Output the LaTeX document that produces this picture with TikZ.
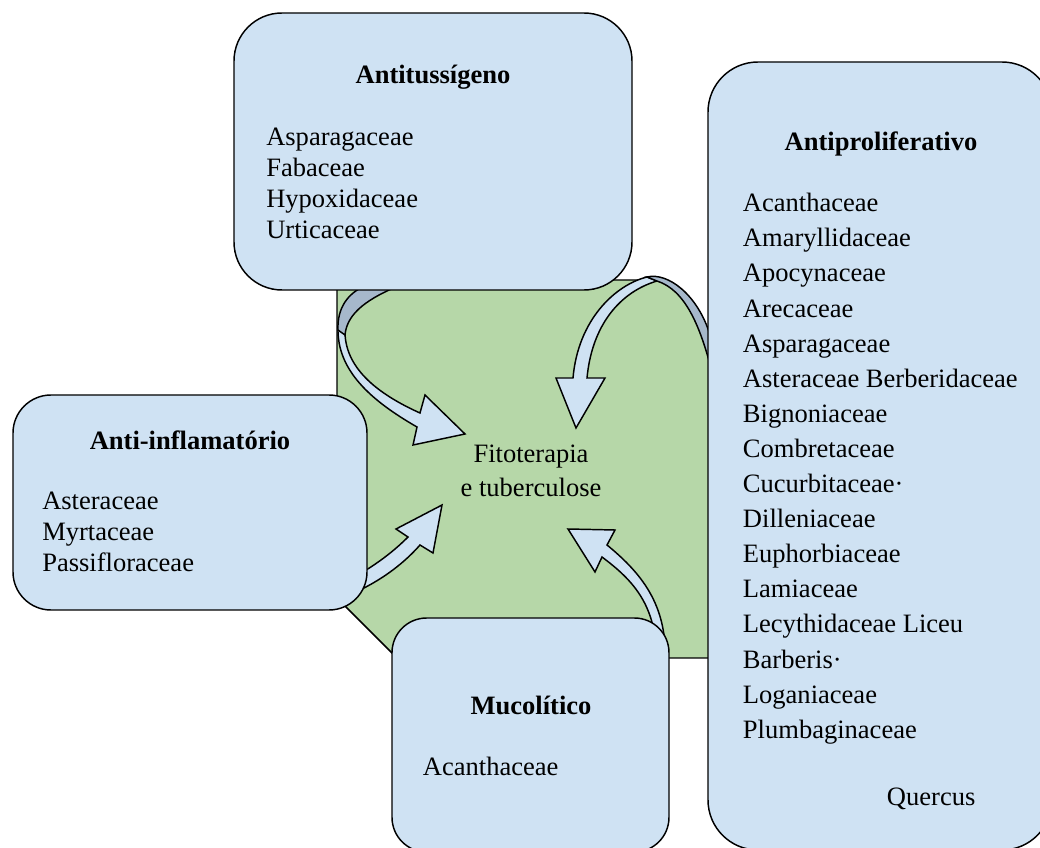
\documentclass[tikz,border=0pt]{standalone}
\usepackage{fontspec}
\setmainfont{Liberation Serif}
\definecolor{boxblue}{HTML}{CFE2F3}
\definecolor{leafgreen}{HTML}{B6D7A8}
\definecolor{foldgray}{HTML}{A6B8CB}
\begin{document}
\begin{tikzpicture}[x=0.75pt,y=-0.75pt,
  rbox/.style={draw=black, fill=boxblue, line width=1.1pt},
  ribbon/.style={draw=black, fill=boxblue, line width=1.1pt, line join=miter},
  fold/.style={draw=black, fill=foldgray, line width=1.1pt},
  lbl/.style={font=\fontsize{19.9}{24}\selectfont, inner sep=0pt, anchor=base west},
  ttl/.style={font=\fontsize{19.9}{24}\selectfont\bfseries, inner sep=0pt, anchor=base}]
\useasboundingbox (0,0) rectangle (1040,848);
\clip (0,0) rectangle (1040,848);
% central green shape
\draw[draw=black, fill=leafgreen, line width=1.1pt] (337,280) -- (648,280) .. controls (670,276) and (700,300) .. (712,345) -- (712,658) -- (397,658) -- (337,598) -- cycle;
% arrow 1 (from Antitussigeno)
\draw[ribbon] (338,328) .. controls (337,370) and (370,400) .. (417,427) -- (413,445) -- (465,434) -- (425,395) -- (420,413) .. controls (380,395) and (346,370) .. (345,333) -- cycle;
\draw[fold] (338,330) .. controls (337,308) and (348,293) .. (365,286) -- (398,286) .. controls (370,298) and (347,312) .. (345,335) -- cycle;
% arrow 2 (from Antiproliferativo)
\draw[ribbon] (647,277) .. controls (615,285) and (578,320) .. (573,378) -- (556,378) -- (576,428) -- (605,378) -- (587,378) .. controls (592,325) and (620,292) .. (657,281) -- cycle;
\draw[fold] (647,277) .. controls (668,272) and (698,295) .. (710,335) -- (712,372) .. controls (700,325) and (685,290) .. (657,281) -- cycle;
% arrow 3 (from Anti-inflamatorio)
\draw[ribbon] (358,591) .. controls (385,578) and (405,562) .. (420,545) -- (433,553) -- (442,505) -- (396,529) -- (408,537) .. controls (395,550) and (380,562) .. (358,575) -- cycle;
% arrow 4 (from Mucolitico)
\draw[ribbon] (665,645) .. controls (662,600) and (640,572) .. (607,545) -- (615,530) -- (568,529) -- (595,572) -- (602,557) .. controls (630,578) and (652,600) .. (656,645) -- cycle;
% boxes
\draw[rbox, rounded corners=36pt] (234,13) rectangle (632,290);
\draw[rbox, rounded corners=37.5pt] (708,62) rectangle (1052,850);
\draw[rbox, rounded corners=28.5pt] (13,395) rectangle (367,610);
\draw[rbox, rounded corners=26pt] (392,618) rectangle (669,852);
% texts
\node[ttl] (ttus) at (433,84) {Antitussígeno};
\foreach \t [count=\i] in {Asparagaceae,Fabaceae,Hypoxidaceae,Urticaceae}
  \node[lbl] (tus\i) at (266,{145.5+31*(\i-1)}) {\t};
\node[ttl] (tinf) at (190,450) {Anti-inflamatório};
\foreach \t [count=\i] in {Asteraceae,Myrtaceae,Passifloraceae}
  \node[lbl] (inf\i) at (42,{510+31*(\i-1)}) {\t};
\node[ttl] (tmuc) at (531,715) {Mucolítico};
\node[lbl] (muc1) at (422.7,775.7) {Acanthaceae};
\node[ttl] (tpro) at (881,150.3) {Antiproliferativo};
\foreach \t [count=\i] in {Acanthaceae,Amaryllidaceae,Apocynaceae,Arecaceae,Asparagaceae,Asteraceae Berberidaceae,Bignoniaceae,Combretaceae,Cucurbitaceae·,Dilleniaceae,Euphorbiaceae,Lamiaceae,Lecythidaceae Liceu,Barberis·,Loganiaceae,Plumbaginaceae}
  \node[lbl] (pro\i) at (742.7,{211.8+35.1*(\i-1)}) {\t};
\node[lbl] (quer) at (886.7,805.7) {Quercus};
\node[font=\fontsize{19.9}{24}\selectfont, inner sep=0pt, anchor=base] (fito) at (531,463) {Fitoterapia};
\node[font=\fontsize{19.9}{24}\selectfont, inner sep=0pt, anchor=base] (tub) at (531,497) {e tuberculose};
\end{tikzpicture}
\end{document}
